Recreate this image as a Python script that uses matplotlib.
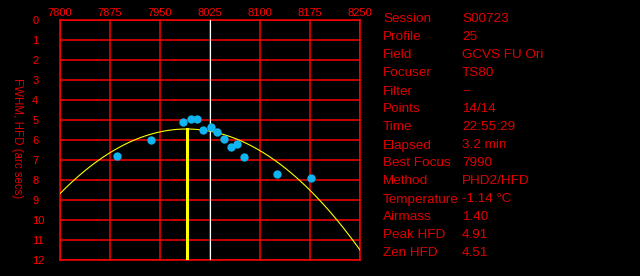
import numpy as np
import matplotlib
matplotlib.use('Agg')
import matplotlib.pyplot as plt

plt.rcParams['font.family'] = ['Liberation Sans', 'DejaVu Sans']

# focus positions and measured HFD (arc secs)
positions = [7885, 7936, 7985, 7996, 8005, 8015, 8026, 8035, 8046, 8056, 8065, 8076, 8125, 8176]
hfd = [6.78, 5.98, 5.08, 4.93, 4.93, 5.48, 5.33, 5.58, 5.93, 6.33, 6.18, 6.83, 7.68, 7.88]

# parabola fit: vertex position, vertex value, curvature
fit_vertex = 7990
fit_min = 5.45
fit_curv = 8.95e-5
best_focus = 7990
prev_focus = 8025

x_ticks = [7800, 7875, 7950, 8025, 8100, 8175, 8250]
y_ticks = list(range(13))

info_labels = ['Session', 'Profile', 'Field', 'Focuser', 'Filter', 'Points', 'Time',
               'Elapsed', 'Best Focus', 'Method', 'Temperature', 'Airmass', 'Peak HFD', 'Zen HFD']
info_values = ['S00723', '25', 'GCVS FU Ori', 'TS80', '--', '14/14', '22:55:29',
               '3.2 min', '7990', 'PHD2/HFD', '-1.14 °C', '1.40', '4.91', '4.51']

red = '#ff0000'
txt_red = '#e00000'

fig = plt.figure(figsize=(6.4, 2.76), dpi=100, facecolor='black')
ax = fig.add_axes([60 / 640, 1 - 260 / 276, 300 / 640, 240 / 276])
ax.set_facecolor('black')

ax.set_xlim(7800, 8250)
ax.set_ylim(12, 0)
ax.set_xticks(x_ticks)
ax.set_yticks(y_ticks)
ax.grid(True, color=red, linewidth=1.1)
for s in ax.spines.values():
    s.set_color(red)
    s.set_linewidth(1.1)

ax.xaxis.tick_top()
ax.tick_params(axis='x', length=0, pad=1.5, labelcolor=red, labelsize=8)
ax.tick_params(axis='y', length=0, pad=20, labelcolor=red, labelsize=8)
for lbl in ax.get_yticklabels():
    lbl.set_ha('left')

# fitted curve
xs = np.linspace(7800, 8250, 400)
ys = fit_min + fit_curv * (xs - fit_vertex) ** 2
ax.plot(xs, ys, color='yellow', linewidth=0.8, zorder=3)

ax.plot([best_focus, best_focus], [12, fit_min], color='yellow', linewidth=2.2, zorder=3)
ax.plot([prev_focus, prev_focus], [0, 12], color='white', linewidth=0.8, zorder=3)

ax.scatter(positions, hfd, s=36, color='#10b4f0', zorder=4, linewidths=0)

fig.text(17 / 640, 1 - 138 / 276, 'FWHM, HFD (arc secs)', rotation=270,
         color='#d80000', fontsize=8.3, ha='center', va='center')

for i, (lab, val) in enumerate(zip(info_labels, info_values)):
    y = 1 - (22.5 + 18 * i) / 276
    fig.text(383 / 640, y, lab, color=txt_red, fontsize=9.7, va='baseline', ha='left')
    fig.text(462 / 640, y, val, color=txt_red, fontsize=9.7, va='baseline', ha='left')

fig.savefig('out.png', dpi=100, facecolor='black')
